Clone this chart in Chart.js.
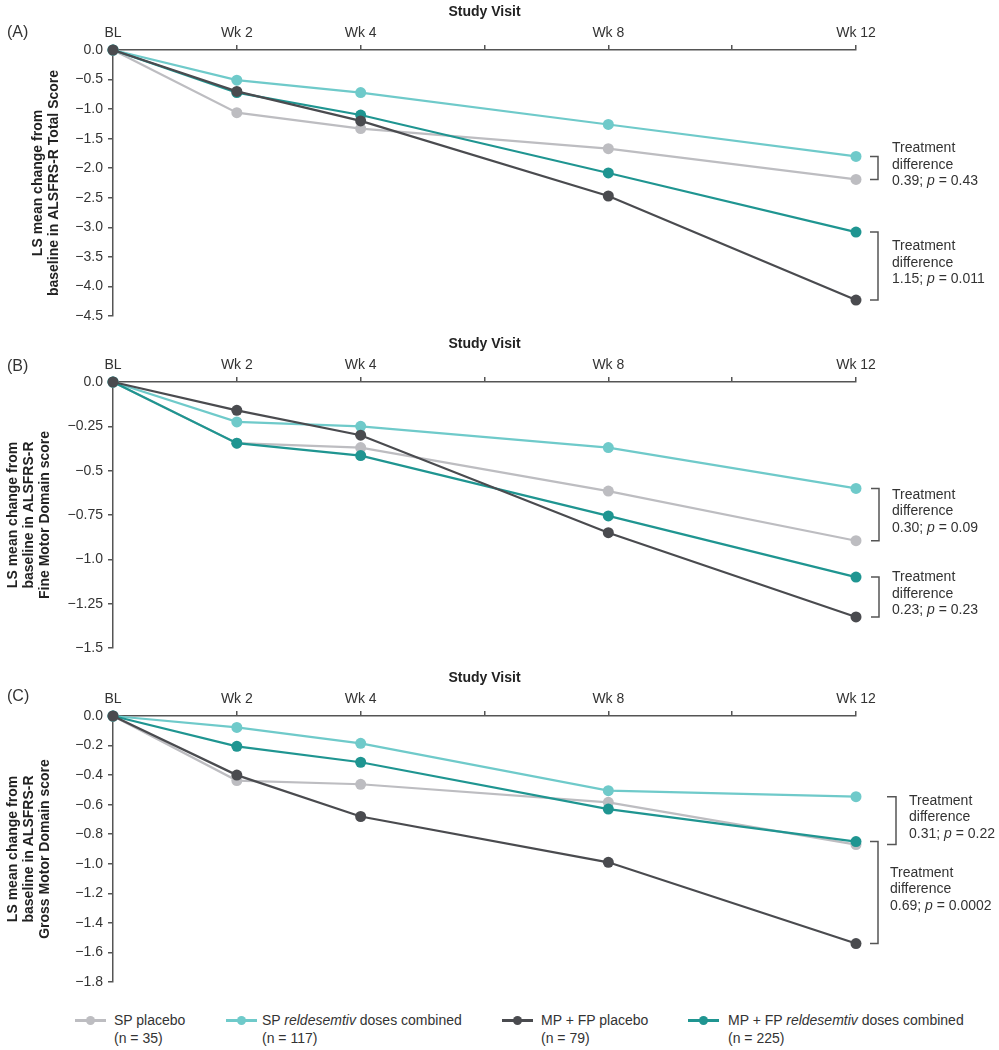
<!DOCTYPE html>
<html>
<head>
<meta charset="utf-8">
<script src="https://cdn.jsdelivr.net/npm/chart.js@4.4.0/dist/chart.umd.min.js"></script>
<style>
    body { margin: 0; background: #fff; font-family: 'Liberation Sans', Arial, sans-serif; }
    #wrap { position: relative; width: 999px; height: 1050px; overflow: hidden; }
    #wrap canvas { position: absolute; left: 0; }
    .legLine { position: absolute; height: 2.5px; top: 1019px; }
    .legDot { position: absolute; width: 9px; height: 9px; border-radius: 50%; top: 1015.5px; }
    .legText { position: absolute; top: 1011px; font-size: 14px; line-height: 18px; color: #333; white-space: nowrap; }
</style>
</head>
<body>
<div id="wrap">
    <canvas id="chartA" width="999" height="332" style="top:0px"></canvas>
    <canvas id="chartB" width="999" height="332" style="top:332px"></canvas>
    <canvas id="chartC" width="999" height="332" style="top:666px"></canvas>
    <div id="legend"></div>
</div>
<script>
// weeks / x axis
const weeks = [0, 2, 4, 8, 12];
const xTickValues = [0, 2, 4, 6, 8, 10, 12];
const xTickLabels = ['BL', 'Wk 2', 'Wk 4', '', 'Wk 8', '', 'Wk 12'];

// series: SP placebo, SP reldesemtiv, MP + FP placebo, MP + FP reldesemtiv
const seriesNames = ['SP placebo', 'SP reldesemtiv doses combined', 'MP + FP placebo', 'MP + FP reldesemtiv doses combined'];
const seriesN = [35, 117, 79, 225];
const seriesColors = ['#bdbdc1', '#6fcaca', '#4a4b4f', '#1f9591'];
const drawOrder = [3, 2, 0, 1];

// (A) ALSFRS-R total score
const totalSpPlacebo = [0, -1.06, -1.33, -1.67, -2.19];
const totalSpReld = [0, -0.51, -0.72, -1.26, -1.80];
const totalMpPlacebo = [0, -0.70, -1.20, -2.47, -4.23];
const totalMpReld = [0, -0.72, -1.10, -2.08, -3.08];
const totalTicks = [0, -0.5, -1, -1.5, -2, -2.5, -3, -3.5, -4, -4.5];
const totalTickLabels = ['0.0', '\u22120.5', '\u22121.0', '\u22121.5', '\u22122.0', '\u22122.5', '\u22123.0', '\u22123.5', '\u22124.0', '\u22124.5'];
const totalDiffs = ['0.39', '1.15'];
const totalPs = ['0.43', '0.011'];

// (B) fine motor domain
const fineSpPlacebo = [0, -0.345, -0.37, -0.615, -0.895];
const fineSpReld = [0, -0.225, -0.25, -0.37, -0.60];
const fineMpPlacebo = [0, -0.16, -0.30, -0.85, -1.325];
const fineMpReld = [0, -0.345, -0.415, -0.755, -1.10];
const fineTicks = [0, -0.25, -0.5, -0.75, -1, -1.25, -1.5];
const fineTickLabels = ['0.0', '\u22120.25', '\u22120.5', '\u22120.75', '\u22121.0', '\u22121.25', '\u22121.5'];
const fineDiffs = ['0.30', '0.23'];
const finePs = ['0.09', '0.23'];

// (C) gross motor domain
const grossSpPlacebo = [0, -0.437, -0.462, -0.584, -0.87];
const grossSpReld = [0, -0.077, -0.185, -0.505, -0.546];
const grossMpPlacebo = [0, -0.40, -0.68, -0.99, -1.54];
const grossMpReld = [0, -0.205, -0.313, -0.63, -0.85];
const grossTicks = [0, -0.2, -0.4, -0.6, -0.8, -1, -1.2, -1.4, -1.6, -1.8];
const grossTickLabels = ['0.0', '\u22120.2', '\u22120.4', '\u22120.6', '\u22120.8', '\u22121.0', '\u22121.2', '\u22121.4', '\u22121.6', '\u22121.8'];
const grossDiffs = ['0.31', '0.69'];
const grossPs = ['0.22', '0.0002'];

const FONT = "'Liberation Sans', Arial, sans-serif";
const AXIS_COLOR = '#555';
const TEXT_COLOR = '#333';

const panels = [
    {
        canvas: 'chartA', letter: '(A)', letterY: 33, titlePad: 30,
        title: ['LS mean change from', 'baseline in ALSFRS-R Total Score'],
        series: [totalSpPlacebo, totalSpReld, totalMpPlacebo, totalMpReld],
        ticks: totalTicks, tickLabels: totalTickLabels, diffs: totalDiffs, ps: totalPs,
        brackets: [{ top: 1, bottom: 0, x0: 14, x1: 22, tx: 36 }, { top: 3, bottom: 2, x0: 14, x1: 22, tx: 36 }]
    },
    {
        canvas: 'chartB', letter: '(B)', letterY: 35, titlePad: 5,
        title: ['LS mean change from', 'baseline in ALSFRS-R', 'Fine Motor Domain score'],
        series: [fineSpPlacebo, fineSpReld, fineMpPlacebo, fineMpReld],
        ticks: fineTicks, tickLabels: fineTickLabels, diffs: fineDiffs, ps: finePs,
        brackets: [{ top: 1, bottom: 0, x0: 15, x1: 23, tx: 36 }, { top: 3, bottom: 2, x0: 15, x1: 23, tx: 36 }]
    },
    {
        canvas: 'chartC', letter: '(C)', letterY: 31, titlePad: 5,
        title: ['LS mean change from', 'baseline in ALSFRS-R', 'Gross Motor Domain score'],
        series: [grossSpPlacebo, grossSpReld, grossMpPlacebo, grossMpReld],
        ticks: grossTicks, tickLabels: grossTickLabels, diffs: grossDiffs, ps: grossPs,
        brackets: [{ top: 1, bottom: 0, x0: 31, x1: 40, tx: 53 }, { top: 3, bottom: 2, x0: 14, x1: 22, tx: 34 }]
    }
];

// brackets + "Treatment difference" notes + panel letter
function notesPlugin(p) {
    return {
        id: 'notes',
        afterDatasetsDraw(chart) {
            const ctx = chart.ctx;
            const xs = chart.scales.x;
            const ys = chart.scales.y;
            const last = weeks.length - 1;
            const xEnd = xs.getPixelForValue(weeks[last]);
            ctx.save();
            ctx.fillStyle = TEXT_COLOR;
            ctx.textBaseline = 'middle';
            ctx.textAlign = 'left';
            ctx.font = '16px ' + FONT;
            ctx.fillText(p.letter, 7, p.letterY);

            p.brackets.forEach((b, k) => {
                const yTop = ys.getPixelForValue(p.series[b.top][last]);
                const yBot = ys.getPixelForValue(p.series[b.bottom][last]);
                ctx.strokeStyle = AXIS_COLOR;
                ctx.lineWidth = 1.5;
                ctx.beginPath();
                ctx.moveTo(xEnd + b.x0, yTop);
                ctx.lineTo(xEnd + b.x1, yTop);
                ctx.lineTo(xEnd + b.x1, yBot);
                ctx.lineTo(xEnd + b.x0, yBot);
                ctx.stroke();

                const mid = (yTop + yBot) / 2 - 3;
                const lh = 16.5;
                const tx = xEnd + b.tx;
                ctx.font = '14px ' + FONT;
                ctx.fillText('Treatment', tx, mid - lh);
                ctx.fillText('difference', tx, mid);
                let x = tx;
                const first = p.diffs[k] + '; ';
                ctx.fillText(first, x, mid + lh);
                x += ctx.measureText(first).width;
                ctx.font = 'italic 14px ' + FONT;
                ctx.fillText('p', x, mid + lh);
                x += ctx.measureText('p').width;
                ctx.font = '14px ' + FONT;
                ctx.fillText(' = ' + p.ps[k], x, mid + lh);
            });
            ctx.restore();
        }
    };
}

function renderPanel(p) {
    const canvas = document.getElementById(p.canvas);
    const gridOpts = { drawOnChartArea: false, drawTicks: true, tickLength: 5, color: AXIS_COLOR, lineWidth: 1.5 };
    const borderOpts = { display: true, color: AXIS_COLOR, width: 1.5 };

    new Chart(canvas, {
        type: 'line',
        data: {
            datasets: p.series.map((vals, i) => ({
                label: seriesNames[i],
                data: weeks.map((w, j) => ({ x: w, y: vals[j] })),
                borderColor: seriesColors[i],
                backgroundColor: seriesColors[i],
                pointBackgroundColor: seriesColors[i],
                pointBorderWidth: 0,
                pointRadius: 5.5,
                borderWidth: 2.2,
                tension: 0,
                clip: false,
                order: drawOrder[i]
            }))
        },
        options: {
            responsive: false,
            animation: false,
            events: [],
            layout: { padding: { left: 0, right: 143, top: 0, bottom: 16 } },
            plugins: { legend: { display: false }, tooltip: { enabled: false } },
            scales: {
                x: {
                    type: 'linear',
                    position: 'top',
                    min: 0,
                    max: 12,
                    afterBuildTicks: s => { s.ticks = xTickValues.map(v => ({ value: v })); },
                    afterFit: s => { s.height = 50; },
                    ticks: {
                        callback: v => xTickLabels[xTickValues.indexOf(v)],
                        font: { size: 14, family: FONT },
                        color: TEXT_COLOR,
                        padding: 3,
                        maxRotation: 0,
                        autoSkip: false
                    },
                    grid: gridOpts,
                    border: borderOpts,
                    title: {
                        display: true,
                        text: 'Study Visit',
                        font: { size: 14, weight: 'bold', family: FONT },
                        color: '#222',
                        padding: { top: 4, bottom: 0 }
                    }
                },
                y: {
                    type: 'linear',
                    min: p.ticks[p.ticks.length - 1],
                    max: 0,
                    afterBuildTicks: s => { s.ticks = p.ticks.map(v => ({ value: v })); },
                    afterFit: s => { s.width = 113; },
                    ticks: {
                        callback: v => p.tickLabels[p.ticks.indexOf(v)],
                        font: { size: 14, family: FONT },
                        color: TEXT_COLOR,
                        padding: 5,
                        autoSkip: false
                    },
                    grid: gridOpts,
                    border: borderOpts,
                    title: {
                        display: true,
                        text: p.title,
                        font: { size: 14, weight: 'bold', family: FONT, lineHeight: '16px' },
                        color: '#222',
                        padding: { top: p.titlePad, bottom: 0 }
                    }
                }
            }
        },
        plugins: [notesPlugin(p)]
    });
}

function renderLegend() {
    const box = document.getElementById('legend');
    const lineLeft = [75, 226, 502, 688];
    const textLeft = [114, 262, 541, 728];
    let html = '';
    seriesNames.forEach((name, i) => {
        const label = name.replace('reldesemtiv', '<i>reldesemtiv</i>');
        html += `<div class="legLine" style="left:${lineLeft[i]}px;width:31px;background:${seriesColors[i]}"></div>`;
        html += `<div class="legDot" style="left:${lineLeft[i] + 11}px;background:${seriesColors[i]}"></div>`;
        html += `<div class="legText" style="left:${textLeft[i]}px">${label}<br>(n = ${seriesN[i]})</div>`;
    });
    box.innerHTML = html;
}

document.addEventListener('DOMContentLoaded', () => {
    if (typeof Chart === 'undefined') {
        console.error('Chart.js not loaded');
        return;
    }
    panels.forEach(renderPanel);
    renderLegend();
});
</script>
</body>
</html>
